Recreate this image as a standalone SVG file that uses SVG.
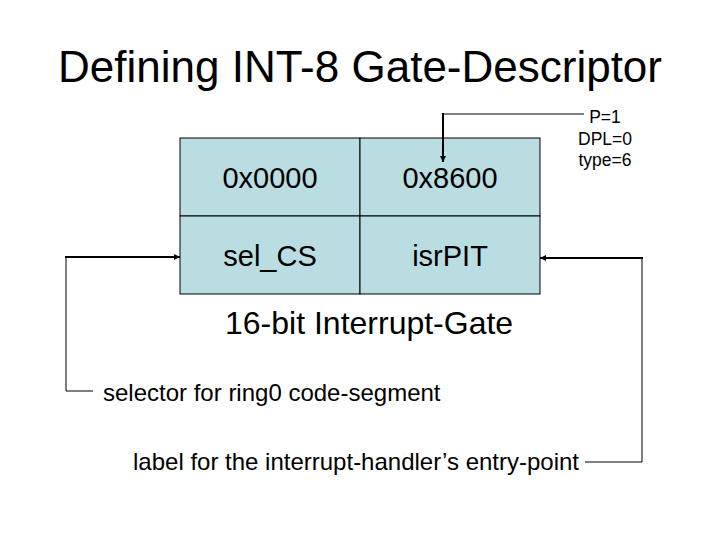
<svg xmlns="http://www.w3.org/2000/svg" width="720" height="540" viewBox="0 0 720 540">
<defs>
<marker id="ah" viewBox="0 0 10 10" refX="10" refY="5" markerWidth="6" markerHeight="6" orient="auto" markerUnits="userSpaceOnUse"><path d="M0,0 L10,5 L0,10 z" fill="#000"/></marker>
</defs>
<style>
text{font-family:"Liberation Sans",Arial,sans-serif;fill:#000}
.cell{fill:#badde2;stroke:#000;stroke-width:1}
.ct{font-size:29px;text-anchor:middle}
.ln{fill:none;stroke:#000;stroke-width:1}
.la{fill:none;stroke:#000;stroke-width:2;marker-end:url(#ah)}
.fl{font-size:17.5px;text-anchor:middle}
</style>
<rect width="720" height="540" fill="#fff"/>
<text x="360" y="82" font-size="44" text-anchor="middle">Defining INT-8 Gate-Descriptor</text>
<g id="cell-00"><rect class="cell" x="180" y="138" width="180" height="78"/><text class="ct" x="270" y="188">0x0000</text></g>
<g id="cell-01"><rect class="cell" x="360" y="138" width="180" height="78"/><text class="ct" x="450" y="188">0x8600</text></g>
<g id="cell-10"><rect class="cell" x="180" y="216" width="180" height="78"/><text class="ct" x="270" y="266">sel_CS</text></g>
<g id="cell-11"><rect class="cell" x="360" y="216" width="180" height="78"/><text class="ct" x="450" y="266">isrPIT</text></g>
<g id="connectors">
<path class="ln" d="M584,114 H443"/>
<path class="la" d="M443,113 V162"/>
<path class="ln" d="M93,391 H66 V257"/>
<path class="la" d="M65,257 H180"/>
<path class="ln" d="M585,462 H642 V258"/>
<path class="la" d="M643,258 H540"/>
</g>
<g id="note-flags">
<text class="fl" x="605" y="123">P=1</text>
<text class="fl" x="605" y="144.5">DPL=0</text>
<text class="fl" x="605" y="166">type=6</text>
</g>
<text id="gate" x="225" y="334" font-size="32">16-bit Interrupt-Gate</text>
<text id="sel" x="103" y="401" font-size="24">selector for ring0 code-segment</text>
<text id="lbl" x="133" y="470" font-size="24">label for the interrupt-handler’s entry-point</text>
</svg>
